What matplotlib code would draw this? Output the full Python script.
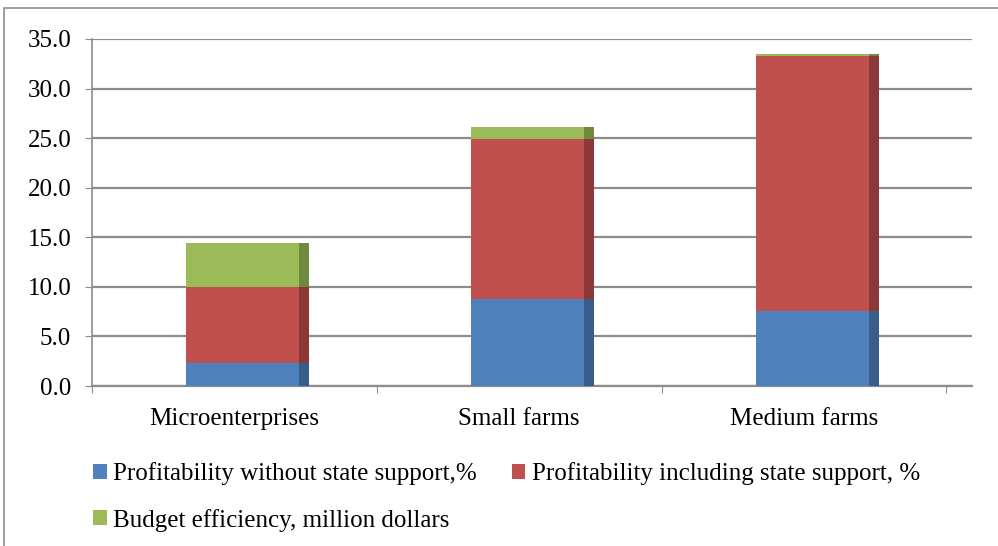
import matplotlib
matplotlib.use("Agg")
import matplotlib.pyplot as plt
from matplotlib.patches import Rectangle, Patch

categories = ["Microenterprises", "Small farms", "Medium farms"]
series_names = ["Profitability without state support,%",
                "Profitability including state support, %",
                "Budget efficiency, million dollars"]
no_support = [2.3, 8.8, 7.6]
with_support = [7.7, 16.1, 25.7]
budget_eff = [4.4, 1.2, 0.2]

front_colors = ["#4F81BD", "#C0504D", "#9BBB59"]
side_colors = ["#385D8A", "#8C3836", "#71893F"]

plt.rcParams['font.family'] = ['Liberation Serif', 'DejaVu Serif']

fig = plt.figure(figsize=(9.98, 5.46), dpi=100)
ax = fig.add_axes([0.0922, 0.293, 0.974 - 0.0922, 0.9286 - 0.293])

x = range(len(categories))
left_off = -0.169
front_w = 0.396
side_w = 0.036

bottoms = [0.0] * len(categories)
for vals, fc, sc in zip([no_support, with_support, budget_eff], front_colors, side_colors):
    ax.bar([i + left_off for i in x], vals, front_w, bottom=bottoms,
           align='edge', color=fc, linewidth=0, zorder=3)
    ax.bar([i + left_off + front_w for i in x], vals, side_w, bottom=bottoms,
           align='edge', color=sc, linewidth=0, zorder=3)
    bottoms = [b + v for b, v in zip(bottoms, vals)]

ax.set_xlim(-0.5, 2.59)
ax.set_ylim(0, 35)
ax.set_yticks([0, 5, 10, 15, 20, 25, 30, 35])
ax.set_yticklabels(["%.1f" % v for v in [0, 5, 10, 15, 20, 25, 30, 35]], fontsize=18)
ax.yaxis.grid(True, color="#8C8C8C", linewidth=1.6, zorder=0)
ax.set_axisbelow(True)

ax.set_xticks([-0.5, 0.5, 1.5, 2.5], minor=False)
ax.set_xticklabels([])
ax.set_xticks(list(x), minor=True)
ax.set_xticklabels(categories, minor=True, fontsize=18)
ax.tick_params(axis='x', which='minor', length=0, pad=16)
ax.tick_params(axis='x', which='major', length=5, color="#8C8C8C", direction='out')
ax.tick_params(axis='y', length=5, color="#8C8C8C", pad=10)

for s in ['top', 'right']:
    ax.spines[s].set_visible(False)
ax.spines['left'].set_color("#8C8C8C")
ax.spines['bottom'].set_color("#8C8C8C")
ax.spines['left'].set_linewidth(1.2)
ax.spines['bottom'].set_linewidth(1.6)

# order so the two columns fill as: row1 blue, red / row2 green
order = [0, 2, 1]
handles = [Patch(facecolor=front_colors[i], edgecolor='none') for i in order]
labels = [series_names[i] for i in order]
fig.legend(handles, labels, loc='upper left', bbox_to_anchor=(0.083, 0.172),
           ncol=2, frameon=False, fontsize=18, handlelength=0.55, handleheight=0.55,
           handletextpad=0.25, columnspacing=1.4, labelspacing=0.95, borderaxespad=0)

# outer frame of the original figure box
fig.patches.append(Rectangle((4 / 998, -0.1), 1.5, 1.1 - 8 / 546, transform=fig.transFigure,
                             fill=False, edgecolor="#8C8C8C", linewidth=1.2))

fig.savefig("out.png", dpi=100)
